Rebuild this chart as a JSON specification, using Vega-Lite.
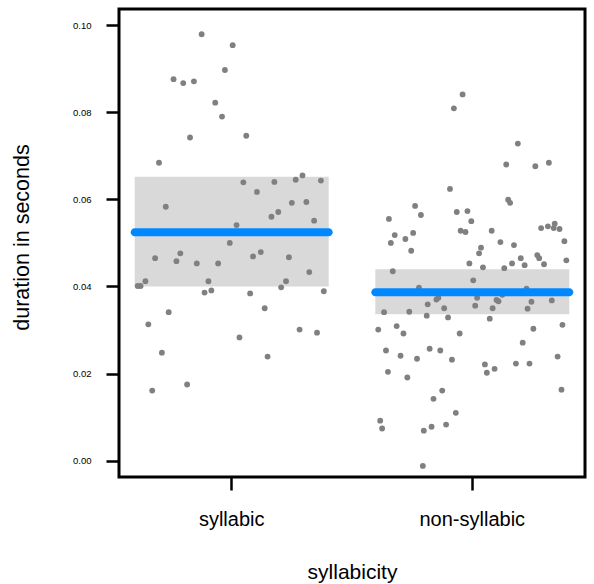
{
  "$schema": "https://vega.github.io/schema/vega-lite/v6.json",
  "autosize": "none",
  "width": 466,
  "height": 468,
  "padding": {"left": 119, "top": 9, "right": 9, "bottom": 107},
  "background": "white",
  "config": {
    "view": {"stroke": "black", "strokeWidth": 3},
    "font": "Liberation Sans",
    "axis": {"grid": false, "domain": false, "tickColor": "black", "tickWidth": 2.5, "labelColor": "black", "titleColor": "black", "titleFontWeight": "normal", "labelFont": "Liberation Sans", "titleFont": "Liberation Sans"}
  },
  "datasets": {
    "pts": [
      {"s":"syllabic","j":-0.31,"d":0.0979},{"s":"syllabic","j":0.01,"d":0.0954},{"s":"syllabic","j":-0.07,"d":0.0897},{"s":"syllabic","j":-0.60,"d":0.0876},{"s":"syllabic","j":-0.50,"d":0.0867},{"s":"syllabic","j":-0.39,"d":0.0871},{"s":"syllabic","j":-0.17,"d":0.0822},{"s":"syllabic","j":-0.10,"d":0.0790},{"s":"syllabic","j":-0.43,"d":0.0742},{"s":"syllabic","j":0.15,"d":0.0746},{"s":"syllabic","j":-0.75,"d":0.0684},{"s":"syllabic","j":0.12,"d":0.0639},{"s":"syllabic","j":0.26,"d":0.0617},{"s":"syllabic","j":0.44,"d":0.0640},{"s":"syllabic","j":0.66,"d":0.0645},{"s":"syllabic","j":0.73,"d":0.0655},{"s":"syllabic","j":0.92,"d":0.0643},{"s":"syllabic","j":-0.68,"d":0.0583},{"s":"syllabic","j":0.62,"d":0.0592},{"s":"syllabic","j":0.77,"d":0.0594},{"s":"syllabic","j":0.48,"d":0.0571},{"s":"syllabic","j":0.41,"d":0.0560},{"s":"syllabic","j":0.85,"d":0.0551},{"s":"syllabic","j":0.05,"d":0.0541},{"s":"syllabic","j":-0.02,"d":0.0500},{"s":"syllabic","j":-0.79,"d":0.0465},{"s":"syllabic","j":-0.53,"d":0.0476},{"s":"syllabic","j":-0.57,"d":0.0458},{"s":"syllabic","j":-0.36,"d":0.0453},{"s":"syllabic","j":-0.14,"d":0.0453},{"s":"syllabic","j":0.22,"d":0.0469},{"s":"syllabic","j":0.30,"d":0.0479},{"s":"syllabic","j":0.59,"d":0.0467},{"s":"syllabic","j":0.80,"d":0.0433},{"s":"syllabic","j":-0.97,"d":0.0401},{"s":"syllabic","j":-0.94,"d":0.0401},{"s":"syllabic","j":-0.89,"d":0.0412},{"s":"syllabic","j":-0.24,"d":0.0412},{"s":"syllabic","j":-0.28,"d":0.0386},{"s":"syllabic","j":-0.21,"d":0.0391},{"s":"syllabic","j":0.19,"d":0.0384},{"s":"syllabic","j":0.51,"d":0.0398},{"s":"syllabic","j":0.56,"d":0.0412},{"s":"syllabic","j":0.95,"d":0.0389},{"s":"syllabic","j":0.34,"d":0.0350},{"s":"syllabic","j":-0.65,"d":0.0341},{"s":"syllabic","j":-0.86,"d":0.0313},{"s":"syllabic","j":-0.72,"d":0.0248},{"s":"syllabic","j":-0.82,"d":0.0161},{"s":"syllabic","j":-0.46,"d":0.0175},{"s":"syllabic","j":0.08,"d":0.0283},{"s":"syllabic","j":0.37,"d":0.0239},{"s":"syllabic","j":0.70,"d":0.0301},{"s":"syllabic","j":0.88,"d":0.0294},
      {"s":"non-syllabic","j":-0.10,"d":0.0841},{"s":"non-syllabic","j":-0.19,"d":0.0809},{"s":"non-syllabic","j":0.47,"d":0.0728},{"s":"non-syllabic","j":0.35,"d":0.0680},{"s":"non-syllabic","j":0.65,"d":0.0676},{"s":"non-syllabic","j":0.79,"d":0.0684},{"s":"non-syllabic","j":-0.23,"d":0.0624},{"s":"non-syllabic","j":-0.59,"d":0.0585},{"s":"non-syllabic","j":-0.53,"d":0.0564},{"s":"non-syllabic","j":-0.86,"d":0.0555},{"s":"non-syllabic","j":-0.16,"d":0.0571},{"s":"non-syllabic","j":-0.05,"d":0.0573},{"s":"non-syllabic","j":-0.01,"d":0.0550},{"s":"non-syllabic","j":0.37,"d":0.0599},{"s":"non-syllabic","j":0.39,"d":0.0592},{"s":"non-syllabic","j":-0.80,"d":0.0518},{"s":"non-syllabic","j":-0.84,"d":0.0500},{"s":"non-syllabic","j":-0.69,"d":0.0509},{"s":"non-syllabic","j":-0.61,"d":0.0523},{"s":"non-syllabic","j":-0.63,"d":0.0482},{"s":"non-syllabic","j":-0.12,"d":0.0528},{"s":"non-syllabic","j":-0.07,"d":0.0525},{"s":"non-syllabic","j":0.20,"d":0.0528},{"s":"non-syllabic","j":0.29,"d":0.0502},{"s":"non-syllabic","j":0.43,"d":0.0495},{"s":"non-syllabic","j":0.09,"d":0.0489},{"s":"non-syllabic","j":0.07,"d":0.0476},{"s":"non-syllabic","j":-0.03,"d":0.0453},{"s":"non-syllabic","j":0.11,"d":0.0444},{"s":"non-syllabic","j":0.33,"d":0.0442},{"s":"non-syllabic","j":0.41,"d":0.0453},{"s":"non-syllabic","j":0.50,"d":0.0465},{"s":"non-syllabic","j":0.54,"d":0.0449},{"s":"non-syllabic","j":0.71,"d":0.0534},{"s":"non-syllabic","j":0.78,"d":0.0538},{"s":"non-syllabic","j":0.85,"d":0.0544},{"s":"non-syllabic","j":0.84,"d":0.0534},{"s":"non-syllabic","j":0.90,"d":0.0532},{"s":"non-syllabic","j":0.95,"d":0.0504},{"s":"non-syllabic","j":0.97,"d":0.0460},{"s":"non-syllabic","j":0.67,"d":0.0472},{"s":"non-syllabic","j":0.69,"d":0.0465},{"s":"non-syllabic","j":0.74,"d":0.0451},{"s":"non-syllabic","j":-0.82,"d":0.0435},{"s":"non-syllabic","j":0.01,"d":0.0414},{"s":"non-syllabic","j":-0.55,"d":0.0397},{"s":"non-syllabic","j":0.56,"d":0.0395},{"s":"non-syllabic","j":0.05,"d":0.0374},{"s":"non-syllabic","j":0.25,"d":0.0369},{"s":"non-syllabic","j":0.27,"d":0.0366},{"s":"non-syllabic","j":0.31,"d":0.0381},{"s":"non-syllabic","j":-0.37,"d":0.0370},{"s":"non-syllabic","j":-0.35,"d":0.0374},{"s":"non-syllabic","j":-0.46,"d":0.0359},{"s":"non-syllabic","j":-0.29,"d":0.0350},{"s":"non-syllabic","j":0.03,"d":0.0356},{"s":"non-syllabic","j":0.21,"d":0.0350},{"s":"non-syllabic","j":0.61,"d":0.0365},{"s":"non-syllabic","j":0.82,"d":0.0368},{"s":"non-syllabic","j":0.57,"d":0.0349},{"s":"non-syllabic","j":-0.91,"d":0.0341},{"s":"non-syllabic","j":-0.65,"d":0.0342},{"s":"non-syllabic","j":-0.47,"d":0.0333},{"s":"non-syllabic","j":-0.25,"d":0.0329},{"s":"non-syllabic","j":0.18,"d":0.0326},{"s":"non-syllabic","j":-0.97,"d":0.0301},{"s":"non-syllabic","j":-0.78,"d":0.0309},{"s":"non-syllabic","j":-0.71,"d":0.0292},{"s":"non-syllabic","j":-0.13,"d":0.0292},{"s":"non-syllabic","j":0.63,"d":0.0303},{"s":"non-syllabic","j":0.93,"d":0.0312},{"s":"non-syllabic","j":0.52,"d":0.0271},{"s":"non-syllabic","j":-0.89,"d":0.0253},{"s":"non-syllabic","j":-0.74,"d":0.0241},{"s":"non-syllabic","j":-0.57,"d":0.0234},{"s":"non-syllabic","j":-0.44,"d":0.0257},{"s":"non-syllabic","j":-0.33,"d":0.0253},{"s":"non-syllabic","j":-0.21,"d":0.0232},{"s":"non-syllabic","j":0.13,"d":0.0221},{"s":"non-syllabic","j":0.15,"d":0.0202},{"s":"non-syllabic","j":0.23,"d":0.0211},{"s":"non-syllabic","j":0.45,"d":0.0223},{"s":"non-syllabic","j":0.59,"d":0.0223},{"s":"non-syllabic","j":0.88,"d":0.0239},{"s":"non-syllabic","j":-0.87,"d":0.0204},{"s":"non-syllabic","j":-0.67,"d":0.0191},{"s":"non-syllabic","j":0.92,"d":0.0163},{"s":"non-syllabic","j":-0.31,"d":0.0161},{"s":"non-syllabic","j":-0.40,"d":0.0142},{"s":"non-syllabic","j":-0.17,"d":0.0110},{"s":"non-syllabic","j":-0.95,"d":0.0092},{"s":"non-syllabic","j":-0.93,"d":0.0074},{"s":"non-syllabic","j":-0.50,"d":0.0069},{"s":"non-syllabic","j":-0.42,"d":0.0078},{"s":"non-syllabic","j":-0.27,"d":0.0083},{"s":"non-syllabic","j":-0.51,"d":-0.0012}
    ],
    "summ": [
      {"s":"syllabic","mean":0.05245,"lo":0.0400,"hi":0.0652},
      {"s":"non-syllabic","mean":0.03868,"lo":0.03362,"hi":0.04396}
    ]
  },
  "encoding": {
    "x": {"field": "s", "type": "nominal", "sort": ["syllabic", "non-syllabic"],
      "scale": {"paddingInner": 0.194, "paddingOuter": 0.0655},
      "axis": {"title": "syllabicity", "labelAngle": 0, "labelFontSize": 20, "tickSize": 13, "labelPadding": 19, "titleFontSize": 21, "titlePadding": 32}}
  },
  "layer": [
    {
      "data": {"name": "summ"},
      "mark": {"type": "bar", "color": "#d9d9d9", "width": 194},
      "encoding": {
        "y": {"field": "lo", "type": "quantitative",
          "scale": {"domain": [-0.00374, 0.1037], "nice": false, "zero": false},
          "axis": {"title": "duration in seconds", "values": [0, 0.02, 0.04, 0.06, 0.08, 0.1], "format": ".2f", "labelFontSize": 9.5, "tickSize": 13, "labelPadding": 15, "titleFontSize": 21.5, "titleX": -86, "titleY": 228}},
        "y2": {"field": "hi"}
      }
    },
    {
      "data": {"name": "pts"},
      "mark": {"type": "circle", "color": "#808080", "opacity": 1, "size": 34},
      "encoding": {
        "xOffset": {"field": "j", "type": "quantitative", "scale": {"domain": [-1, 1]}},
        "y": {"field": "d", "type": "quantitative"}
      }
    },
    {
      "data": {"name": "summ"},
      "mark": {"type": "tick", "color": "#0088ff", "thickness": 8, "size": 202, "cornerRadius": 4, "opacity": 1},
      "encoding": {
        "y": {"field": "mean", "type": "quantitative"}
      }
    }
  ]
}
